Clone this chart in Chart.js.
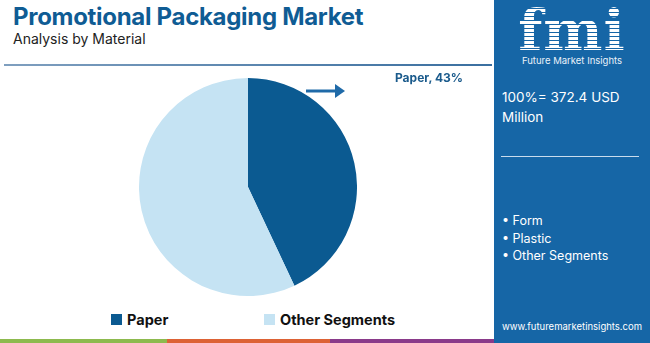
<!DOCTYPE html>
<html>
<head>
<meta charset="utf-8">
<script src="https://cdn.jsdelivr.net/npm/chart.js@4.4.0/dist/chart.umd.min.js"></script>
<style>
  body { margin: 0; width: 650px; height: 343px; background: #fff; font-family: Inter, "Open Sans", sans-serif; overflow: hidden; position: relative; }
  #title { position: absolute; left: 13px; top: 2px; font-size: 24px; font-weight: 700; color: #0f5c94; letter-spacing: -0.3px; }
  #subtitle { position: absolute; left: 13px; top: 30px; font-size: 14px; color: #222; }
  #topline { position: absolute; left: 4px; top: 64px; width: 488px; height: 2px; background: linear-gradient(90deg, #7f9fbf, #3a6fa0); }
  #pieWrap { position: absolute; left: 139px; top: 78px; width: 218px; height: 218px; }
  #arrow { position: absolute; left: 306px; top: 84px; }
  #label { position: absolute; left: 395px; top: 70px; font-size: 12px; font-weight: 700; color: #1b5b8c; }
  #legend { position: absolute; top: 311px; left: 0; font-size: 14.5px; font-weight: 700; color: #111; }
  .lg { position: absolute; white-space: nowrap; display: flex; align-items: center; }
  .lg span.sw { display: inline-block; width: 11px; height: 11px; margin-right: 5px; }
  #bottom div { position: absolute; top: 339px; height: 4px; }
  #panel { position: absolute; left: 494px; top: 0; width: 156px; height: 343px; background: #1666a6; color: #fff; }
  #logo { position: absolute; left: 0; width: 156px; top: 0; text-align: center; }
  #logo .fmi { font-family: "DejaVu Serif", serif; font-weight: 700; font-size: 56px; line-height: 50px; margin-top: 5px; letter-spacing: 1px;
     background: repeating-linear-gradient(180deg, #fff 0 3px, #1666a6 3px 4px); -webkit-background-clip: text; background-clip: text; color: transparent; }
  #logo .sub { font-size: 9.5px; margin-top: 0px; color: #eaf2fa; }
  #total { position: absolute; left: 8px; top: 87px; font-size: 13.5px; line-height: 20px; }
  #sep { position: absolute; left: 7px; top: 156px; width: 138px; height: 1px; background: #c9dced; }
  #bullets { position: absolute; left: 8px; top: 212px; font-size: 12.5px; line-height: 17.5px; }
  #web { position: absolute; left: 0; width: 156px; text-align: center; top: 321px; font-size: 9.5px; }
</style>
</head>
<body>
<div id="title">Promotional Packaging Market</div>
<div id="subtitle">Analysis by Material</div>
<div id="topline"></div>

<div id="pieWrap"><canvas id="pie" width="218" height="218"></canvas></div>
<svg id="arrow" width="42" height="14"><line x1="0" y1="7" x2="30" y2="7" stroke="#1f6aa8" stroke-width="3"/><polygon points="29,0 39,7 29,14" fill="#1f6aa8"/></svg>
<div id="label"></div>

<div id="legend"></div>

<div id="bottom">
  <div style="left:0;width:167px;background:#8dba4e"></div>
  <div style="left:167px;width:163px;background:#dd6235"></div>
  <div style="left:330px;width:164px;background:#8a3a8a"></div>
</div>

<div id="panel">
  <div id="logo"><div class="fmi">fmi</div><div class="sub">Future Market Insights</div></div>
  <div id="total">100%= 372.4 USD<br>Million</div>
  <div id="sep"></div>
  <div id="bullets"></div>
  <div id="web">www.futuremarketinsights.com</div>
</div>

<script>
const categories = ['Paper', 'Other Segments'];
const shares = [43, 57];
const colors = ['#0b5a91', '#c5e3f3'];
const otherSegments = ['Form', 'Plastic', 'Other Segments'];

document.getElementById('label').textContent = categories[0] + ', ' + shares[0] + '%';
document.getElementById('bullets').innerHTML = otherSegments.map(s => '• ' + s).join('<br>');

const legendX = [111, 264];
const legend = document.getElementById('legend');
categories.forEach((c, i) => {
    const d = document.createElement('div');
    d.className = 'lg';
    d.style.left = legendX[i] + 'px';
    d.innerHTML = '<span class="sw" style="background:' + colors[i] + '"></span>' + c;
    legend.appendChild(d);
});

new Chart(document.getElementById('pie'), {
    type: 'pie',
    data: {
        labels: categories,
        datasets: [{
            data: shares,
            backgroundColor: colors,
            borderWidth: 0
        }]
    },
    options: {
        responsive: false,
        animation: false,
        layout: { padding: 0 },
        plugins: {
            legend: { display: false },
            tooltip: { enabled: false }
        }
    }
});
</script>
</body>
</html>
